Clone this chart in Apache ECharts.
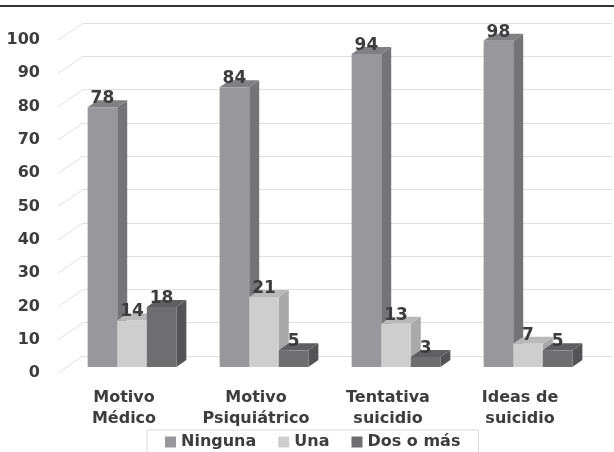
<!DOCTYPE html>
<html>
<head>
<meta charset="utf-8">
<script src="https://cdn.jsdelivr.net/npm/echarts@6/dist/echarts.min.js"></script>
<style>
  html, body { margin: 0; padding: 0; background: #fff; }
  #chart { width: 614px; height: 452px; }
</style>
</head>
<body>
<div id="chart"></div>
<script>
const categories = ["Motivo\nMédico", "Motivo\nPsiquiátrico", "Tentativa\nsuicidio", "Ideas de\nsuicidio"];
const seriesNames = ["Ninguna", "Una", "Dos o más"];
const ninguna = [78, 84, 94, 98];
const una = [14, 21, 13, 7];
const dosOMas = [18, 5, 3, 5];
const yTicks = [0, 10, 20, 30, 40, 50, 60, 70, 80, 90, 100];

// front / side / top colours for each series
const faceColors = [
  { front: "#98989c", side: "#747477", top: "#808083" },
  { front: "#cecece", side: "#a9a9a9", top: "#b9b9b9" },
  { front: "#6e6e70", side: "#545456", top: "#5f5f61" },
];
const textColor = "#3d3d3d";
const fontFamily = "DejaVu Sans";
const depth = [10, -7];

const chart = echarts.init(document.getElementById("chart"));

// barra 3D simple: frente + lado + tapa
function barRenderer(seriesIdx) {
  return function (params, api) {
    const cat = api.value(0);
    const val = api.value(1);
    const top = api.coord([cat, val]);
    const base = api.coord([cat, 0]);
    const band = api.size([1, 0])[0];
    const w = band * 0.224;
    const x = top[0] + (seriesIdx - 1) * w - w / 2;
    const yT = top[1];
    const yB = base[1];
    const c = faceColors[seriesIdx];
    const dx = depth[0], dy = depth[1];
    return {
      type: "group",
      children: [
        {
          type: "polygon",
          shape: { points: [[x + w, yT], [x + w + dx, yT + dy], [x + w + dx, yB + dy], [x + w, yB]] },
          style: { fill: c.side },
        },
        {
          type: "polygon",
          shape: { points: [[x, yT], [x + dx, yT + dy], [x + w + dx, yT + dy], [x + w, yT]] },
          style: { fill: c.top },
        },
        {
          type: "rect",
          shape: { x: x, y: yT, width: w, height: yB - yT },
          style: { fill: c.front },
        },
        {
          type: "text",
          style: {
            text: String(val),
            x: x + w / 2,
            y: yT,
            align: "center",
            verticalAlign: "bottom",
            fill: textColor,
            font: "bold 17px " + fontFamily,
          },
          z2: 10,
        },
      ],
    };
  };
}

const allValues = [ninguna, una, dosOMas];
const barSeries = allValues.map((vals, i) => ({
  name: seriesNames[i],
  type: "custom",
  xAxisIndex: 1,
  yAxisIndex: 1,
  itemStyle: { color: faceColors[i].front },
  renderItem: barRenderer(i),
  encode: { x: 0, y: 1 },
  data: vals.map((v, k) => [k, v]),
  z: 3,
}));

const option = {
  animation: false,
  backgroundColor: "#fff",
  textStyle: { fontFamily: fontFamily },
  graphic: [
    {
      type: "line",
      shape: { x1: 0, y1: 6, x2: 614, y2: 6 },
      style: { stroke: "#333", lineWidth: 2 },
    },
  ],
  grid: [
    // pared del fondo
    { left: 83, width: 529, top: 23, height: 333 },
    // plano frontal de las barras
    { left: 66, width: 528, top: 34, height: 333 },
    // plano de las etiquetas del eje y
    { left: 58, width: 536, top: 40, height: 333 },
  ],
  legend: {
    data: seriesNames,
    left: 147,
    top: 430,
    width: 328,
    padding: [4, 18, 10, 18],
    itemGap: 22,
    itemWidth: 11,
    itemHeight: 11,
    icon: "rect",
    borderColor: "#d9d9d9",
    borderWidth: 1,
    textStyle: { color: textColor, fontSize: 16, fontWeight: "bold", fontFamily: fontFamily },
  },
  xAxis: [
    { gridIndex: 0, type: "value", min: 0, max: 1, show: false },
    {
      gridIndex: 1,
      type: "category",
      data: categories,
      axisLine: { show: false },
      axisTick: { show: false },
      axisLabel: {
        interval: 0,
        margin: 20,
        padding: [0, 16, 0, 0],
        color: textColor,
        fontSize: 16,
        fontWeight: "bold",
        lineHeight: 21,
        fontFamily: fontFamily,
      },
    },
    { gridIndex: 2, type: "value", min: 0, max: 1, show: false },
  ],
  yAxis: [
    {
      gridIndex: 0,
      type: "value",
      min: 0,
      max: 100,
      interval: 10,
      axisLabel: { show: false },
      axisLine: { show: false },
      axisTick: { show: false },
      splitLine: { lineStyle: { color: "#e0e0e0", width: 1 } },
    },
    { gridIndex: 1, type: "value", min: 0, max: 100, interval: 10, show: false },
    {
      gridIndex: 2,
      type: "value",
      min: 0,
      max: 100,
      interval: 10,
      axisLine: { show: false },
      axisTick: { show: false },
      splitLine: { show: false },
      axisLabel: {
        margin: 18,
        color: textColor,
        fontSize: 16,
        fontWeight: "bold",
        fontFamily: fontFamily,
      },
    },
  ],
  series: [
    // líneas diagonales desde el eje hasta la pared
    {
      type: "custom",
      xAxisIndex: 2,
      yAxisIndex: 2,
      silent: true,
      renderItem: function (params, api) {
        const p = api.coord([0, api.value(0)]);
        return {
          type: "line",
          shape: { x1: p[0], y1: p[1], x2: p[0] + 25, y2: p[1] - 17 },
          style: { stroke: "#e0e0e0", lineWidth: 1 },
        };
      },
      encode: { y: 0 },
      data: yTicks.map((t) => [t]),
      z: 1,
    },
    ...barSeries,
  ],
};

chart.setOption(option);
</script>
</body>
</html>
